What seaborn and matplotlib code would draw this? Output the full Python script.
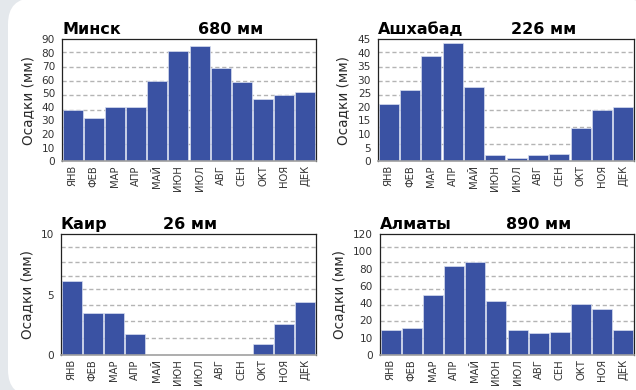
import numpy as np
import pandas as pd
import matplotlib
matplotlib.use('Agg')
import matplotlib.pyplot as plt
import seaborn as sns
from matplotlib.patches import FancyBboxPatch
from matplotlib.transforms import IdentityTransform

# Data
MONTHS = ['ЯНВ', 'ФЕВ', 'МАР', 'АПР', 'МАЙ', 'ИЮН', 'ИЮЛ', 'АВГ', 'СЕН', 'ОКТ', 'НОЯ', 'ДЕК']

MINSK = [38, 32, 40, 40, 59, 81, 85, 69, 58, 46, 49, 51]
ASHGABAT = [21, 26.3, 38.9, 43.4, 27.4, 2.3, 1.1, 2.1, 2.5, 12.3, 18.8, 20]
CAIRO = [6.1, 3.5, 3.5, 1.7, 0, 0, 0, 0, 0, 0.9, 2.6, 4.4]
ALMATY = [14.7, 15.7, 49.2, 83.2, 87.8, 42.4, 14.7, 12.5, 13.4, 38.6, 33, 14.4]

MINSK_TICKS = list(range(0, 91, 10))
ASHGABAT_TICKS = list(range(0, 46, 5))
CAIRO_TICKS = [0, 5, 10]
ALMATY_TICKS = [0, 10, 20, 40, 60, 80, 100, 120]  # evenly spaced on the axis

TITLES = ['Минск', 'Ашхабад', 'Каир', 'Алматы']
TOTALS = ['680 мм', '226 мм', '26 мм', '890 мм']

BAR_COLOR = '#3a52a3'
GRID_FRACS = [0.896, 0.772, 0.657, 0.544, 0.415, 0.277, 0.140]

sns.set_theme(style='white')
plt.rcParams['font.family'] = ['DejaVu Sans']

fig = plt.figure(figsize=(6.36, 3.90), dpi=100)
fig.patch.set_facecolor('#e4e8ec')

# white card with rounded corners (pixel coords)
card = FancyBboxPatch((8, -6), 640, 398, boxstyle='round,pad=0,rounding_size=26',
                      transform=IdentityTransform(), facecolor='white', edgecolor='none', zorder=0)
fig.add_artist(card)

# axes rectangles [left, bottom, width, height]
rects = [
    [0.0975, 0.587, 0.3994, 0.3128],
    [0.5943, 0.587, 0.4025, 0.3128],
    [0.0959, 0.0897, 0.4010, 0.3103],
    [0.5975, 0.0897, 0.3994, 0.3103],
]
total_x = [0.535, 0.52, 0.40, 0.496]
series = [MINSK, ASHGABAT, CAIRO, ALMATY]
ticks = [MINSK_TICKS, ASHGABAT_TICKS, CAIRO_TICKS, ALMATY_TICKS]

for i in range(4):
    ax = fig.add_axes(rects[i])
    ax.set_facecolor('none')
    df = pd.DataFrame({'month': MONTHS, 'mm': series[i]})

    if i == 3:
        slots = np.arange(len(ALMATY_TICKS))
        ax.set_yscale('function', functions=(
            lambda v: np.interp(v, ALMATY_TICKS, slots),
            lambda s: np.interp(s, slots, ALMATY_TICKS)))

    for f in GRID_FRACS:
        ax.plot([0, 1], [f, f], transform=ax.transAxes, color='#b4b4b4',
                lw=1.0, ls=(0, (3, 2)), zorder=0)

    sns.barplot(data=df, x='month', y='mm', ax=ax, color=BAR_COLOR, saturation=1,
                width=0.94, edgecolor='#d8def0', linewidth=0.5, zorder=2)

    ax.set_xlim(-0.5, 11.5)
    ax.set_ylim(ticks[i][0], ticks[i][-1])
    ax.set_yticks(ticks[i])
    ax.set_yticklabels([str(t) for t in ticks[i]])
    ax.set_xlabel('')
    ax.set_ylabel('Осадки (мм)', fontsize=9.8, color='#2a2a2a', labelpad=5)
    ax.tick_params(axis='y', length=0, labelsize=7.6, labelcolor='#333333', pad=5)
    ax.tick_params(axis='x', length=0, labelsize=7.2, labelcolor='#333333', pad=3,
                   labelrotation=90)

    for side in ['top', 'right', 'left']:
        ax.spines[side].set_color('#222222')
        ax.spines[side].set_linewidth(0.9)
    ax.spines['bottom'].set_color('#a0a0a0')
    ax.spines['bottom'].set_linewidth(1.2)

    ax.text(0, 1.045, TITLES[i], transform=ax.transAxes, ha='left', va='baseline',
            fontsize=11.5, fontweight='bold', color='black')
    ax.text(total_x[i], 1.045, TOTALS[i], transform=ax.transAxes, ha='left',
            va='baseline', fontsize=11.5, fontweight='bold', color='black')

fig.savefig('out.png', dpi=100, facecolor=fig.get_facecolor())
